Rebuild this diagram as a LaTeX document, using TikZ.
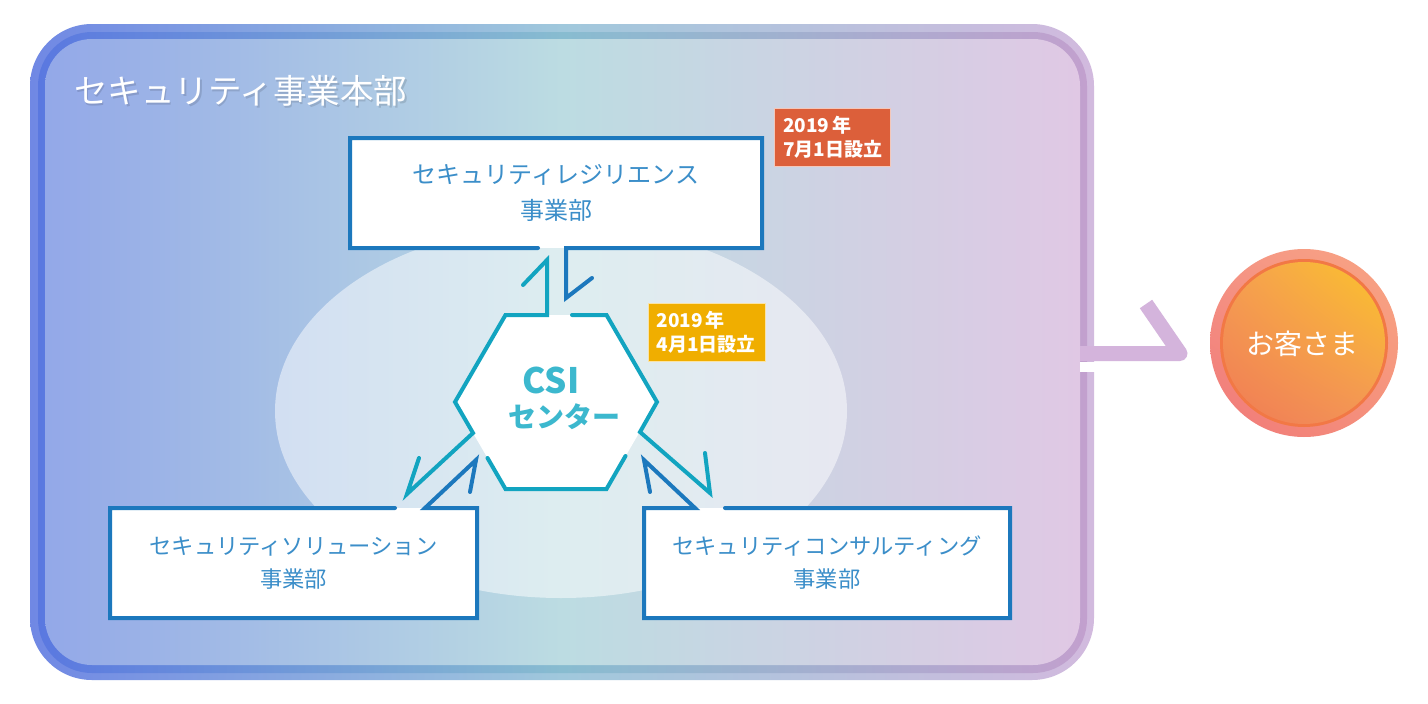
\documentclass[tikz,border=0pt]{standalone}
\usepackage{fontspec}
\newfontfamily\jp{Noto Sans CJK JP}
\usetikzlibrary{calc,shadings}
\definecolor{bandL}{HTML}{7088E4}
\definecolor{bandM}{HTML}{A0C8DC}
\definecolor{bandR}{HTML}{D2BADE}
\definecolor{stripL}{HTML}{5A78E0}
\definecolor{stripM}{HTML}{88BCD0}
\definecolor{stripR}{HTML}{C2A0CE}
\definecolor{fillL}{HTML}{93A8E8}
\definecolor{fillM}{HTML}{BCDCE2}
\definecolor{fillR}{HTML}{E0C8E4}
\definecolor{boxblue}{HTML}{1C78BD}
\definecolor{txtblue}{HTML}{3B8EC9}
\definecolor{hexteal}{HTML}{12A4C0}
\definecolor{csitxt}{HTML}{3CB8CE}
\definecolor{redb}{HTML}{DC5F3A}
\definecolor{orangeb}{HTML}{F0AE00}
\definecolor{arrowc}{HTML}{D4B4DC}
\definecolor{ringUL}{HTML}{F59585}
\definecolor{ringUR}{HTML}{F8A583}
\definecolor{ringLL}{HTML}{F07878}
\definecolor{ringLR}{HTML}{F5917C}
\definecolor{rim}{HTML}{F27845}
\definecolor{inUL}{HTML}{F5A052}
\definecolor{inUR}{HTML}{FBC42A}
\definecolor{inLL}{HTML}{F07A55}
\definecolor{inLR}{HTML}{F39658}
\begin{document}
\begin{tikzpicture}[x=1pt,y=-1pt,
  bline/.style={draw=boxblue, line width=4pt, line cap=round, line join=miter},
  tline/.style={draw=hexteal, line width=4pt, line cap=round, line join=miter},
  unitbox/.style={fill=white, draw=none, inner sep=0pt, outer sep=0pt, align=center, text=txtblue},
  badgebox/.style={inner xsep=10pt, inner ysep=0pt, outer sep=0pt, align=left, text=white,
    draw=white!65!#1, fill=#1, line width=0.8pt, minimum height=58pt, text width=98pt,
    font=\jp\bfseries\fontsize{19}{24}\selectfont},
]
\useasboundingbox (0,0) rectangle (1428,704);
\fill[white] (0,0) rectangle (1428,704);
% outer frame of the division
\shade[left color=bandL, right color=bandR, middle color=bandM, rounded corners=62pt] (30,24) rectangle (1094,680);
\shade[left color=stripL, right color=stripR, middle color=stripM, rounded corners=54pt] (38,32) rectangle (1087,673);
\shade[left color=fillL, right color=fillR, middle color=fillM, rounded corners=47pt] (45,39) rectangle (1080,665);
\fill[white] (1080,362) rectangle (1096,372);
% arrow towards the customers
\coordinate (arrS) at (1080,353.5);
\coordinate (arrT) at (1180,353.5);
\coordinate (arrE) at (1146,304);
\draw[arrowc, line width=15pt, line join=round] (arrS) -- (arrT) -- (arrE);
% light ellipse
\coordinate (ell) at (561,411);
\fill[white, opacity=0.5] (ell) ellipse [x radius=286pt, y radius=187pt];
% hexagon
\coordinate (hTL) at (505.5,315);
\coordinate (hTR) at (606.5,315);
\coordinate (hR) at (657,402);
\coordinate (hBR) at (606.5,489);
\coordinate (hBL) at (505.5,489);
\coordinate (hL) at (455,402);
\fill[white] (hTL) -- (hTR) -- (hR) -- (hBR) -- (hBL) -- (hL) -- cycle;
% unit boxes
\node[unitbox, minimum width=412pt, minimum height=110pt, font=\jp\fontsize{24}{36}\selectfont] (res) at (556,193) {セキュリティレジリエンス\\事業部};
\node[unitbox, minimum width=367pt, minimum height=110pt, font=\jp\fontsize{22.3}{33}\selectfont] (sol) at (293.5,563) {セキュリティソリューション\\事業部};
\node[unitbox, minimum width=366pt, minimum height=110pt, font=\jp\fontsize{22.3}{33}\selectfont] (con) at (827,563) {セキュリティコンサルティング\\事業部};
% box outlines with their arrows
\draw[bline] ([xshift=-18pt]res.south) -- (res.south west) -- (res.north west) -- (res.north east) -- (res.south east) -- ([xshift=10pt]res.south) -- ++(0,50) -- ++(26,-20);
\draw[bline] ([xshift=-82pt]sol.north east) -- (sol.north west) -- (sol.south west) -- (sol.south east) -- (sol.north east) -- ++(-52,0) -- ++(51,-48) -- ++(-6,32);
\draw[bline] ([xshift=81pt]con.north west) -- (con.north east) -- (con.south east) -- (con.south west) -- (con.north west) -- ++(51,0) -- ++(-51,-48) -- ++(6,32);
% hexagon outline with its arrows
\draw[tline] (419,458) -- (407,494) -- (473,433) -- (hL) -- (hTL) -- (547,315) -- (547,260) -- (523,285);
\draw[tline] (572,315) -- (hTR) -- (hR) -- (640,432) -- (710,493) -- (705,453);
\draw[tline] (487.5,458) -- (hBL) -- (hBR) -- (625.5,456);
\node[font=\jp\bfseries\fontsize{35}{35}\selectfont, text=csitxt, inner sep=0pt] (csiA) at (551,380) {CSI};
\node[font=\jp\bfseries\fontsize{28}{28}\selectfont, text=csitxt, inner sep=0pt] (csiB) at (564,417) {センター};
% badges
\node[badgebox=redb, minimum width=116pt, inner xsep=9pt] (b1) at (832,137) {2019\,年\\7月1日設立};
\node[badgebox=orangeb, minimum width=117pt, inner xsep=8.5pt, text width=100pt] (b2) at (706.5,332.5) {2019\,年\\4月1日設立};
% title
\node[anchor=west, text=black, opacity=0.12, font=\jp\fontsize{33.5}{34}\selectfont, inner sep=0pt] (titleshadow) at (75.5,92.5) {セキュリティ事業本部};
\node[anchor=west, text=white, font=\jp\fontsize{33.5}{34}\selectfont, inner sep=0pt] (title) at (74,91) {セキュリティ事業本部};
% customers
\node[circle, minimum size=188pt, inner sep=0pt] (cust) at (1304,343) {};
\shade[upper left=ringUL, upper right=ringUR, lower left=ringLL, lower right=ringLR] (cust.center) circle (94pt);
\fill[rim] (cust.center) circle (84pt);
\shade[upper left=inUL, upper right=inUR, lower left=inLL, lower right=inLR] (cust.center) circle (81pt);
\node[text=white, font=\jp\fontsize{28}{28}\selectfont, inner sep=0pt] (custtxt) at (1302,344) {お客さま};
\end{tikzpicture}
\end{document}
